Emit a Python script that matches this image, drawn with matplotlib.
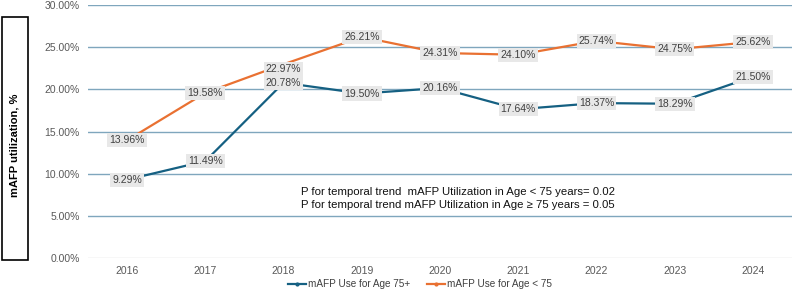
import matplotlib.pyplot as plt
import numpy as np
from matplotlib.patches import Rectangle

years = ['2016', '2017', '2018', '2019', '2020', '2021', '2022', '2023', '2024']
age_75_plus = [9.29, 11.49, 20.78, 19.50, 20.16, 17.64, 18.37, 18.29, 21.50]
age_under_75 = [13.96, 19.58, 22.97, 26.21, 24.31, 24.10, 25.74, 24.75, 25.62]

blue = '#156082'
orange = '#E97132'
grid_col = '#7fa6bd'

plt.rcParams['font.family'] = ['Liberation Sans', 'DejaVu Sans']

fig = plt.figure(figsize=(7.95, 2.91), dpi=100)
ax = fig.add_axes([88 / 795, 33 / 291, 704 / 795, 253 / 291])

x = np.arange(len(years))
ax.plot(x, age_75_plus, color=blue, lw=1.6, marker='o', ms=2,
        label='mAFP Use for Age 75+', zorder=3)
ax.plot(x, age_under_75, color=orange, lw=1.6, marker='o', ms=2,
        label='mAFP Use for Age < 75', zorder=3)

box = dict(boxstyle='square,pad=0.2', fc='#e8e8e8', ec='none')
for xi, v in zip(x, age_75_plus):
    ax.annotate(f'{v:.2f}%', (xi, v), ha='center', va='center', fontsize=7.5,
                color='#404040', bbox=box, zorder=4)
for xi, v in zip(x, age_under_75):
    dy = -3.5 if xi == 2 else 0  # nudge 2018 label off the other series
    ax.annotate(f'{v:.2f}%', (xi, v), xytext=(0, dy), textcoords='offset points',
                ha='center', va='center', fontsize=7.5, color='#404040',
                bbox=box, zorder=4)

ax.set_xlim(-0.5, len(years) - 0.5)
ax.set_ylim(0, 30)
ax.set_yticks(np.arange(0, 31, 5))
ax.set_yticklabels([f'{t:.2f}%' for t in np.arange(0, 31, 5)])
ax.set_xticks(x)
ax.set_xticklabels(years)
ax.tick_params(length=0, labelsize=7.5, colors='#595959', pad=6)
for t in np.arange(5, 31, 5):
    ax.axhline(t, color=grid_col, lw=1, zorder=1)
ax.axhline(0, color='#d9d9d9', lw=1, zorder=1)
for s in ax.spines.values():
    s.set_visible(False)

ax.text(0.302, 0.235,
        'P for temporal trend  mAFP Utilization in Age < 75 years= 0.02\n'
        'P for temporal trend mAFP Utilization in Age \u2265 75 years = 0.05',
        transform=ax.transAxes, fontsize=8.2, color='#111111',
        ha='left', va='center', linespacing=1.3)

# boxed y label
fig.patches.append(Rectangle((2 / 795, 31 / 291), 26 / 795, 243 / 291,
                             transform=fig.transFigure, fill=False,
                             ec='black', lw=1.2))
fig.text(15 / 795, 146 / 291, 'mAFP utilization, %', rotation=90,
         ha='center', va='center', fontsize=8, fontweight='bold')

ax.legend(loc='center', bbox_to_anchor=(420 / 795, 7 / 291), bbox_transform=fig.transFigure,
          ncol=2, frameon=False, fontsize=7.2, handlelength=1.8,
          columnspacing=1.7, handletextpad=0.2, labelcolor='#404040')

fig.savefig('out.png', dpi=100)
